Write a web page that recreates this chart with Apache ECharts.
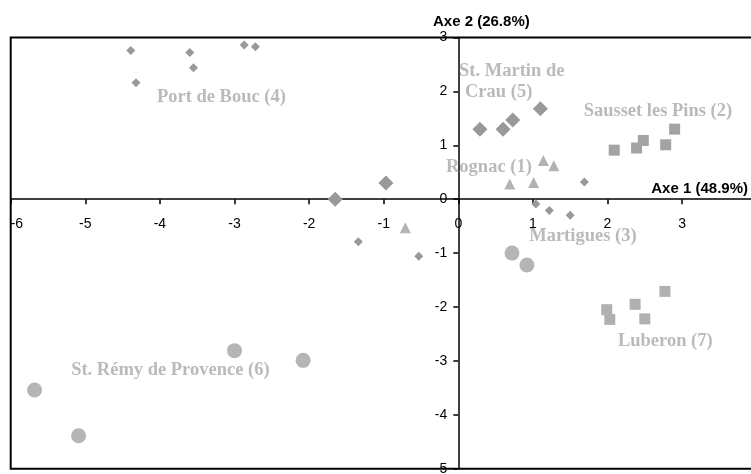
<!DOCTYPE html>
<html>
<head>
<meta charset="utf-8">
<script src="https://cdn.jsdelivr.net/npm/echarts@6/dist/echarts.min.js"></script>
<style>
  html, body { margin: 0; padding: 0; background: #fff; }
  #chart { width: 751px; height: 474px; }
</style>
</head>
<body>
<div id="chart"></div>
<script>
// Factor scores of the sampled sites on the first two axes
const portDeBouc = [[-4.39, 2.76], [-3.60, 2.72], [-3.55, 2.44], [-4.32, 2.16], [-2.87, 2.86], [-2.72, 2.83]];
const martiguesDiamonds = [[-1.34, -0.79], [-0.53, -1.06], [1.04, -0.09], [1.22, -0.21], [1.50, -0.30], [1.69, 0.32]];
const martiguesCircles = [[0.72, -1.00], [0.92, -1.22]];
const stMartin = [[-1.65, 0.00], [-0.97, 0.30], [0.29, 1.30], [0.60, 1.30], [0.73, 1.47], [1.10, 1.68]];
const rognac = [[-0.71, -0.53], [0.69, 0.28], [1.01, 0.31], [1.14, 0.72], [1.28, 0.62]];
const sausset = [[2.09, 0.91], [2.39, 0.95], [2.48, 1.09], [2.78, 1.01], [2.90, 1.30]];
const luberon = [[1.99, -2.05], [2.03, -2.23], [2.37, -1.95], [2.50, -2.22], [2.77, -1.71]];
const stRemy = [[-5.68, -3.54], [-5.09, -4.39], [-3.00, -2.81], [-2.08, -2.99]];

// Group names, anchored (left edge, vertical middle) in axis units
const groupNames = ['Port de Bouc (4)', 'St. Martin de', 'Crau (5)', 'Sausset les Pins (2)', 'Rognac (1)', 'Martigues (3)', 'Luberon (7)', 'St. Rémy de Provence (6)'];
const groupNameAnchors = [[-4.04, 1.90], [0.01, 2.38], [0.09, 1.98], [1.68, 1.63], [-0.165, 0.59], [0.95, -0.69], [2.14, -2.63], [-5.19, -3.17]];

const axis1Name = 'Axe 1 (48.9%)';
const axis2Name = 'Axe 2 (26.8%)';

const X_MIN = -6, X_MAX = 4, Y_MIN = -5, Y_MAX = 3;
const G_LEFT = 10.7, G_TOP = 37.5, G_W = 746, G_H = 431.2;
// both axes cross at the origin: shift each one from its grid edge to zero
const xAxisShift = -(G_H * (0 - Y_MIN) / (Y_MAX - Y_MIN));
const yAxisShift = -(G_W * (0 - X_MIN) / (X_MAX - X_MIN));

const chart = echarts.init(document.getElementById('chart'), null, { renderer: 'canvas' });

function pts(name, data, symbol, size, color) {
  return {
    name: name, type: 'scatter', data: data, symbol: symbol, symbolSize: size,
    itemStyle: { color: color, opacity: 1 }, emphasis: { disabled: true }, z: 3
  };
}

const labelData = groupNames.map((t, i) => [groupNameAnchors[i][0], groupNameAnchors[i][1], t]);

chart.setOption({
  animation: false,
  backgroundColor: '#ffffff',
  grid: {
    left: G_LEFT, top: G_TOP, width: G_W, height: G_H,
    containLabel: false, outerBoundsMode: 'none',
    show: true, borderColor: '#000', borderWidth: 2, backgroundColor: 'transparent'
  },
  xAxis: {
    type: 'value', min: X_MIN, max: X_MAX, interval: 1,
    position: 'bottom', offset: xAxisShift,
    axisLine: { onZero: false, lineStyle: { color: '#000', width: 1.5 } },
    axisTick: { show: true, length: 5, lineStyle: { color: '#000', width: 1.5 } },
    axisLabel: { color: '#000', fontFamily: 'Liberation Sans, Arial', fontSize: 14, margin: 18, alignMinLabel: 'left' },
    splitLine: { show: false }
  },
  yAxis: {
    type: 'value', min: Y_MIN, max: Y_MAX, interval: 1,
    position: 'left', offset: yAxisShift,
    axisLine: { onZero: false, lineStyle: { color: '#000', width: 1.5 } },
    axisTick: { show: true, length: 5, lineStyle: { color: '#000', width: 1.5 } },
    axisLabel: { color: '#000', fontFamily: 'Liberation Sans, Arial', fontSize: 14, margin: 11 },
    splitLine: { show: false }
  },
  series: [
    pts('Port de Bouc', portDeBouc, 'diamond', 9, '#999999'),
    pts('Martigues', martiguesDiamonds, 'diamond', 9, '#999999'),
    pts('Martigues', martiguesCircles, 'circle', 15, '#b5b5b5'),
    pts('St. Martin de Crau', stMartin, 'diamond', 15, '#999999'),
    pts('Rognac', rognac, 'triangle', 11, '#b3b3b3'),
    pts('Sausset les Pins', sausset, 'rect', 11, '#a3a3a3'),
    pts('Luberon', luberon, 'rect', 11, '#b0b0b0'),
    pts('St. Rémy de Provence', stRemy, 'circle', 15, '#b5b5b5'),
    {
      type: 'scatter', data: labelData, symbolSize: 0, silent: true, z: 4,
      label: {
        show: true, position: 'right', distance: 0,
        formatter: p => p.value[2],
        color: '#a9a9a9', fontFamily: 'Liberation Serif, Times New Roman, serif',
        fontWeight: 'bold', fontSize: 18.5
      }
    }
  ],
  graphic: [
    { type: 'text', left: 433, top: 14, style: { text: axis2Name, fill: '#000', font: 'bold 15px Liberation Sans, Arial' } },
    { type: 'text', right: 3, top: 181, style: { text: axis1Name, fill: '#000', font: 'bold 15px Liberation Sans, Arial' } }
  ]
});
</script>
</body>
</html>
